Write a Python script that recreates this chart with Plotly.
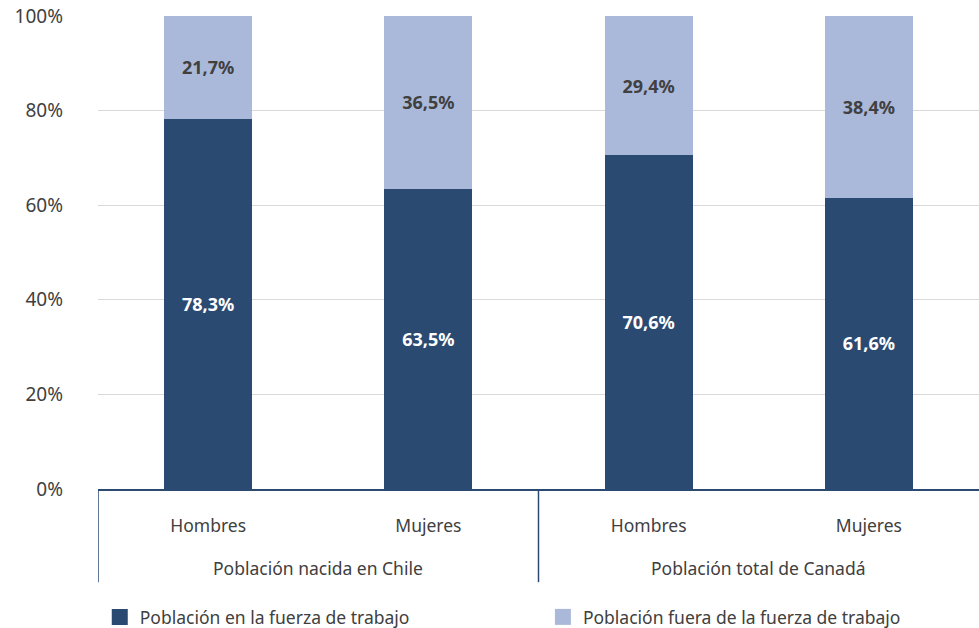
import plotly.graph_objects as go

groups = ["Población nacida en Chile", "Población nacida en Chile",
          "Población total de Canadá", "Población total de Canadá"]
sexes = ["Hombres", "Mujeres", "Hombres", "Mujeres"]
in_labour_force = [78.3, 63.5, 70.6, 61.6]
outside_labour_force = [21.7, 36.5, 29.4, 38.4]
series_names = ["Población en la fuerza de trabajo",
                "Población fuera de la fuerza de trabajo"]

dark_blue = "#2B4A72"
light_blue = "#AAB9DA"
text_grey = "#404040"
font_family = "Noto Sans, Open Sans, sans-serif"

positions = list(range(len(sexes)))

fig = go.Figure()
series = [
    (in_labour_force, series_names[0], dark_blue, "white", "legend"),
    (outside_labour_force, series_names[1], light_blue, text_grey, "legend2"),
]
for values, name, colour, label_colour, legend_id in series:
    fig.add_trace(go.Bar(
        x=positions, y=values, width=0.4, name=name, showlegend=False,
        marker=dict(color=colour, line=dict(width=0)),
        texttemplate="<b>%{y:.1f}%</b>", textposition="inside",
        insidetextanchor="middle",
        textfont=dict(color=label_colour, size=18, family=font_family),
    ))
    # legend entry with a larger square swatch
    fig.add_trace(go.Scatter(
        x=[None], y=[None], mode="markers", name=name,
        legend=legend_id, showlegend=True,
        marker=dict(symbol="square", size=16, color=colour,
                    line=dict(width=0)),
    ))

# group labels and divider lines below the axis
group_names = list(dict.fromkeys(groups))
divider_bottom = -0.197
for name in group_names:
    idx = [i for i, g in enumerate(groups) if g == name]
    centre = sum(idx) / len(idx)
    fig.add_annotation(
        x=centre, xref="x", y=0, yref="paper", yshift=-79,
        text=name, showarrow=False, yanchor="middle",
        font=dict(size=17.5, color=text_grey, family=font_family),
    )
    edge = min(idx) - 0.5
    fig.add_shape(
        type="line", xref="x", yref="paper",
        x0=edge, x1=edge, y0=0, y1=divider_bottom,
        line=dict(color=dark_blue, width=1.5),
    )

legend_common = dict(
    orientation="h", yref="container", yanchor="middle", y=0.0175,
    xanchor="left",
    font=dict(size=17.5, color=text_grey, family=font_family),
    bgcolor="rgba(0,0,0,0)",
)

fig.update_layout(
    width=979, height=628,
    margin=dict(l=98, r=0, t=16, b=139),
    barmode="stack",
    separators=", ",
    showlegend=True,
    plot_bgcolor="white", paper_bgcolor="white",
    font=dict(family=font_family, size=17.5, color=text_grey),
    uniformtext=dict(mode="show", minsize=18),
    legend=dict(x=0.002, **legend_common),
    legend2=dict(x=0.505, **legend_common),
)
fig.update_xaxes(
    range=[-0.5, len(sexes) - 0.5],
    tickvals=positions, ticktext=sexes,
    showline=True, linecolor=dark_blue, linewidth=1.5,
    ticks="", showgrid=False, zeroline=False,
    tickfont=dict(size=17.5, color=text_grey), ticklabelstandoff=20,
)
fig.update_yaxes(
    range=[0, 100], dtick=20, ticksuffix="%",
    showgrid=True, gridcolor="#D9D9D9", gridwidth=1,
    zeroline=False, showline=False,
    tickfont=dict(size=19, color=text_grey), ticklabelstandoff=34,
)

fig.write_html("out.html")
